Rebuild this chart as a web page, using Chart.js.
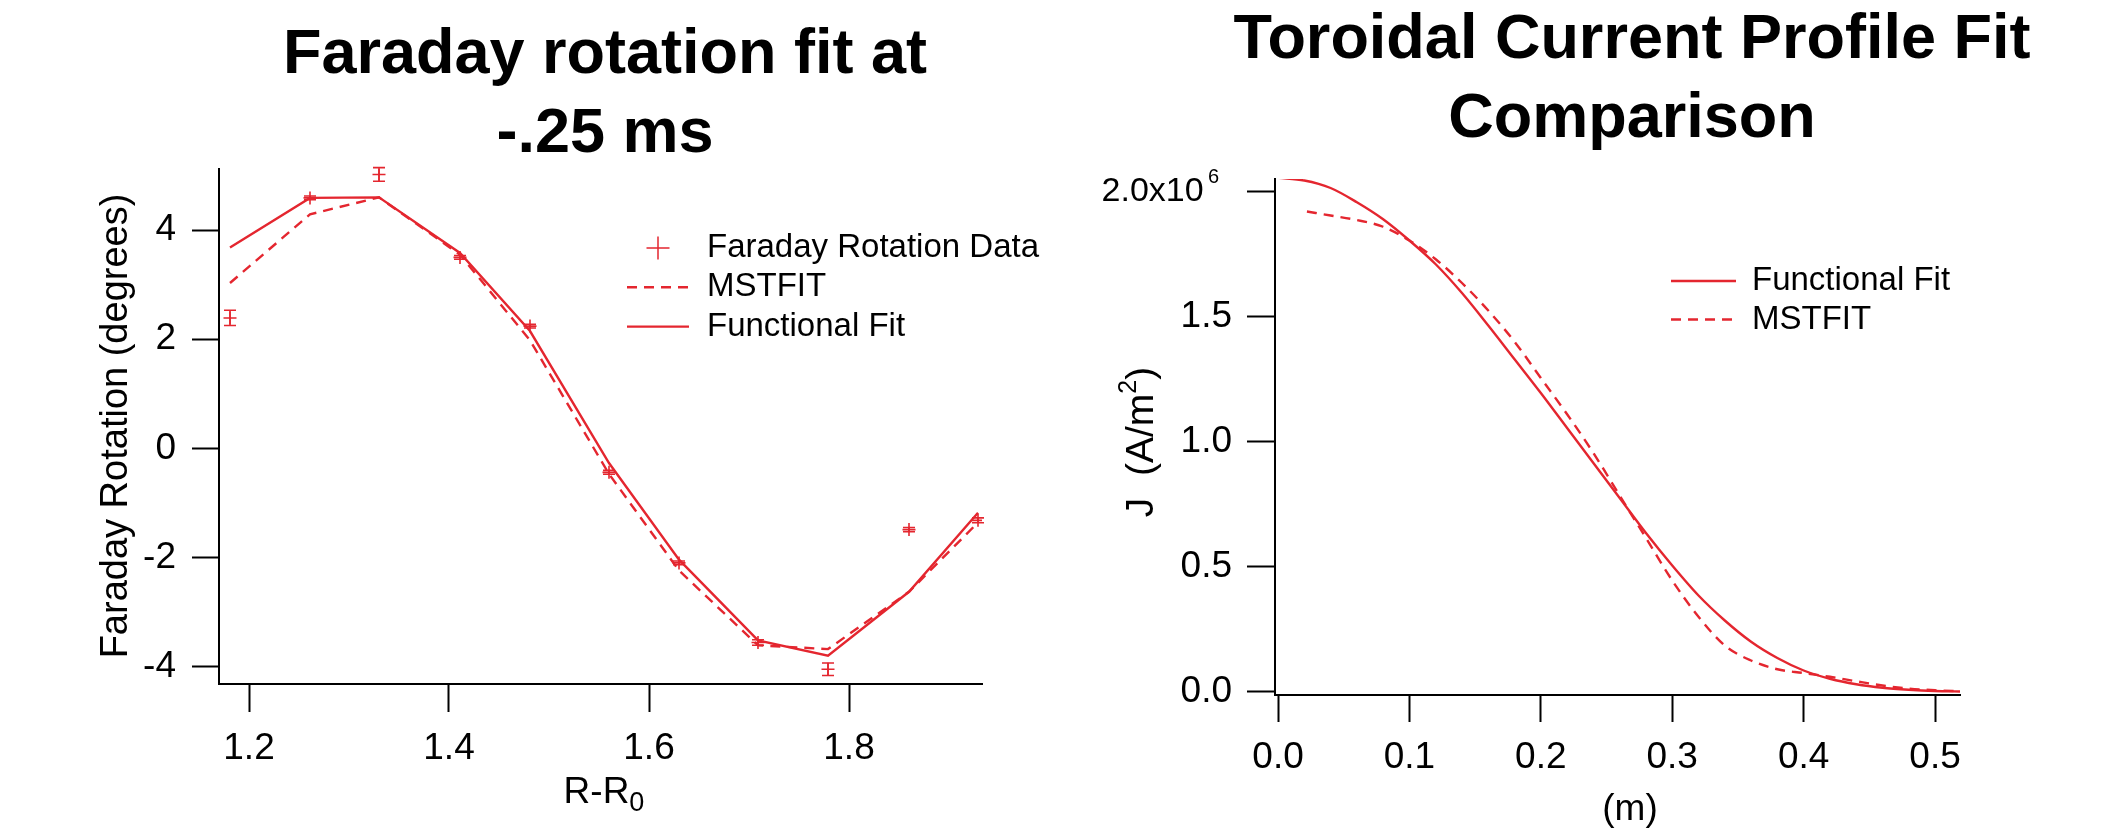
<!DOCTYPE html>
<html>
<head>
<meta charset="utf-8">
<title>Faraday rotation / toroidal current fits</title>
<script src="https://cdn.jsdelivr.net/npm/chart.js@4.4.1/dist/chart.umd.min.js"></script>
<style>
  html, body { margin: 0; padding: 0; background: #fff; }
  #wrap { position: relative; width: 2108px; height: 831px; overflow: hidden; }
  canvas { position: absolute; top: 0; }
  #faradayChart { left: 0; }
  #currentChart { left: 1054px; }
</style>
</head>
<body>
<div id="wrap">
  <canvas id="faradayChart" width="1054" height="831"></canvas>
  <canvas id="currentChart" width="1054" height="831"></canvas>
</div>
<script>
// ─── DATA ────────────────────────────────────────────────

// left panel: chord positions R-R0 and rotation angle (degrees)
const rPositions = [1.181, 1.261, 1.330, 1.411, 1.481, 1.560, 1.630, 1.709, 1.779, 1.860, 1.929];
const faradayData = [2.39, 4.59, 5.02, 3.50, 2.24, -0.44, -2.10, -3.56, -4.05, -1.49, -1.32];
const faradayErr = [0.14, 0.035, 0.125, 0.035, 0.035, 0.035, 0.035, 0.05, 0.115, 0.04, 0.045];
const mstfitRotation = [3.03, 4.29, 4.60, 3.55, 1.98, -0.47, -2.24, -3.61, -3.68, -2.63, -1.36];
const functionalRotation = [3.68, 4.59, 4.60, 3.58, 2.15, -0.27, -2.04, -3.52, -3.80, -2.63, -1.18];
const faradayXTicks = [1.2, 1.4, 1.6, 1.8];
const faradayYTicks = [-4, -2, 0, 2, 4];

// right panel: minor radius (m) and J (A/m^2)
const minorRadius = [0, 0.02, 0.04, 0.06, 0.08, 0.10, 0.12, 0.14, 0.16, 0.18, 0.20, 0.22, 0.24,
  0.26, 0.28, 0.30, 0.32, 0.34, 0.36, 0.38, 0.40, 0.42, 0.44, 0.46, 0.48, 0.50, 0.52];
const jFunctional = [2.056e6, 2.045e6, 2.015e6, 1.958e6, 1.890e6, 1.805e6, 1.710e6, 1.595e6, 1.465e6,
  1.330e6, 1.195e6, 1.055e6, 0.915e6, 0.775e6, 0.635e6, 0.505e6, 0.385e6, 0.285e6, 0.200e6,
  0.135e6, 0.085e6, 0.052e6, 0.030e6, 0.016e6, 0.008e6, 0.003e6, 0.001e6];
const mstfitRadius = [0.022, 0.04, 0.06, 0.08, 0.10, 0.12, 0.14, 0.16, 0.18, 0.20, 0.22, 0.24,
  0.26, 0.28, 0.30, 0.32, 0.34, 0.36, 0.38, 0.40, 0.42, 0.44, 0.46, 0.48, 0.50, 0.52];
const jMstfit = [1.921e6, 1.905e6, 1.887e6, 1.860e6, 1.805e6, 1.730e6, 1.635e6, 1.525e6, 1.400e6,
  1.255e6, 1.110e6, 0.955e6, 0.785e6, 0.615e6, 0.445e6, 0.300e6, 0.185e6, 0.125e6, 0.090e6,
  0.075e6, 0.060e6, 0.042e6, 0.025e6, 0.013e6, 0.006e6, 0.002e6];
const currentXTicks = [0, 0.1, 0.2, 0.3, 0.4, 0.5];
const currentYTicks = [0, 0.5e6, 1.0e6, 1.5e6, 2.0e6];

// ─── STYLE / PLUGINS ────────────────────────────────────

const RED = '#e4262f';
const FONT = "'Liberation Sans', Arial, Helvetica, sans-serif";
Chart.defaults.font.family = FONT;
Chart.defaults.color = '#000';

const xy = (xs, ys) => xs.map((x, i) => ({ x, y: ys[i] }));

// draws a run of text pieces (for sub/superscripts), centred on cx,cy
function drawParts(ctx, parts, cx, cy, rotation) {
  ctx.save();
  ctx.translate(cx, cy);
  ctx.rotate(rotation || 0);
  ctx.fillStyle = '#000';
  ctx.textAlign = 'left';
  ctx.textBaseline = 'middle';
  let total = 0;
  parts.forEach(p => {
    ctx.font = `${p.bold ? 'bold ' : ''}${p.size}px ${FONT}`;
    p.w = ctx.measureText(p.text).width;
    total += p.w;
  });
  let x = -total / 2;
  parts.forEach(p => {
    ctx.font = `${p.bold ? 'bold ' : ''}${p.size}px ${FONT}`;
    ctx.fillText(p.text, x, p.dy || 0);
    x += p.w;
  });
  ctx.restore();
}

const textPlugin = {
  id: 'panelText',
  afterDraw(chart, args, opts) {
    const ctx = chart.ctx;
    (opts.title || []).forEach((line, i) => {
      drawParts(ctx, [{ text: line, size: 63, bold: true }], opts.titleX, opts.titleY + i * 78.4);
    });
    (opts.labels || []).forEach(l => drawParts(ctx, l.parts, l.x, l.y, l.rotation));
  }
};

// exponent of the top J tick ("2.0x10" + superscript 6)
const exponentPlugin = {
  id: 'tickExponent',
  afterDraw(chart) {
    const { ctx, scales: { y } } = chart;
    const py = y.getPixelForValue(currentYTicks[currentYTicks.length - 1]);
    ctx.save();
    ctx.fillStyle = '#000';
    ctx.font = `20px ${FONT}`;
    ctx.textAlign = 'left';
    ctx.textBaseline = 'middle';
    ctx.fillText('6', y.right - 67, py - 14);
    ctx.restore();
  }
};

// error bars for the measured points (first dataset)
const errorBarPlugin = {
  id: 'errorBars',
  afterDatasetsDraw(chart) {
    const ds = chart.data.datasets[0];
    if (!ds.errors) return;
    const { ctx, scales: { x, y } } = chart;
    ctx.save();
    ctx.strokeStyle = ds.borderColor;
    ctx.lineWidth = 1.6;
    ds.data.forEach((p, i) => {
      const px = x.getPixelForValue(p.x);
      const lo = y.getPixelForValue(p.y - ds.errors[i]);
      const hi = y.getPixelForValue(p.y + ds.errors[i]);
      ctx.beginPath();
      ctx.moveTo(px, lo); ctx.lineTo(px, hi);
      ctx.moveTo(px - 6, lo); ctx.lineTo(px + 6, lo);
      ctx.moveTo(px - 6, hi); ctx.lineTo(px + 6, hi);
      ctx.stroke();
    });
    ctx.restore();
  }
};

// legend drawn from the dataset styles
const legendPlugin = {
  id: 'fitLegend',
  afterDraw(chart, args, opts) {
    const ctx = chart.ctx;
    ctx.save();
    chart.data.datasets.forEach((ds, i) => {
      const y = opts.y + i * opts.rowHeight;
      ctx.strokeStyle = ds.borderColor;
      ctx.beginPath();
      if (ds.showLine) {
        ctx.lineWidth = ds.borderWidth;
        ctx.setLineDash(ds.borderDash || []);
        ctx.moveTo(opts.x0, y);
        ctx.lineTo(opts.x1, y);
      } else {
        const cx = (opts.x0 + opts.x1) / 2;
        ctx.lineWidth = 1.5;
        ctx.setLineDash([]);
        ctx.moveTo(cx - 11.5, y); ctx.lineTo(cx + 11.5, y);
        ctx.moveTo(cx, y - 11.5); ctx.lineTo(cx, y + 11.5);
      }
      ctx.stroke();
      ctx.setLineDash([]);
      ctx.fillStyle = '#000';
      ctx.font = `${opts.size}px ${FONT}`;
      ctx.textAlign = 'left';
      ctx.textBaseline = 'middle';
      ctx.fillText(ds.label, opts.textX, y);
    });
    ctx.restore();
  }
};

function axis(min, max, tickValues, opts) {
  return {
    type: 'linear',
    min, max,
    afterBuildTicks: scale => { scale.ticks = tickValues.map(value => ({ value })); },
    afterFit: scale => {
      if (opts.width) scale.width = opts.width;
      if (opts.height) scale.height = opts.height;
    },
    grid: { drawOnChartArea: false, tickLength: opts.tickLength, tickWidth: 2, tickColor: '#000', color: '#000' },
    border: { display: true, color: '#000', width: 2 },
    ticks: {
      padding: opts.padding,
      color: '#000',
      autoSkip: false,
      maxRotation: 0,
      font: opts.font || { size: 37 },
      callback: opts.format
    }
  };
}

// ─── CHARTS ─────────────────────────────────────────────

function initFaradayChart() {
  const ctx = document.getElementById('faradayChart').getContext('2d');
  new Chart(ctx, {
    type: 'scatter',
    data: {
      datasets: [
        {
          label: 'Faraday Rotation Data',
          data: xy(rPositions, faradayData),
          errors: faradayErr,
          showLine: false,
          pointStyle: 'cross',
          pointRadius: 6.5,
          borderColor: RED,
          borderWidth: 1.6
        },
        {
          label: 'MSTFIT',
          data: xy(rPositions, mstfitRotation),
          showLine: true,
          borderColor: RED,
          borderWidth: 2.4,
          borderDash: [10, 7],
          pointRadius: 0
        },
        {
          label: 'Functional Fit',
          data: xy(rPositions, functionalRotation),
          showLine: true,
          borderColor: RED,
          borderWidth: 2.4,
          pointRadius: 0
        }
      ]
    },
    options: {
      responsive: false,
      animation: false,
      devicePixelRatio: 1,
      layout: { padding: { left: 0, right: 72, top: 169, bottom: 0 } },
      plugins: {
        legend: { display: false },
        tooltip: { enabled: false },
        fitLegend: { x0: 627, x1: 689, textX: 707, y: 248, rowHeight: 39.3, size: 33 },
        panelText: {
          title: ['Faraday rotation fit at', '-.25 ms'],
          titleX: 605, titleY: 56,
          labels: [
            { parts: [{ text: 'Faraday Rotation (degrees)', size: 38 }], x: 117, y: 426, rotation: -Math.PI / 2 },
            { parts: [{ text: 'R-R', size: 37 }, { text: '0', size: 27, dy: 11 }], x: 604, y: 793 }
          ]
        }
      },
      scales: {
        x: axis(1.17, 1.933, faradayXTicks, { height: 147, tickLength: 28, padding: 15, format: v => v.toFixed(1) }),
        y: axis(-4.32, 5.12, faradayYTicks, { width: 219, tickLength: 27, padding: 16, format: v => String(v) })
      }
    },
    plugins: [errorBarPlugin, legendPlugin, textPlugin]
  });
}

function initCurrentChart() {
  const ctx = document.getElementById('currentChart').getContext('2d');
  new Chart(ctx, {
    type: 'scatter',
    data: {
      datasets: [
        {
          label: 'Functional Fit',
          data: xy(minorRadius, jFunctional),
          showLine: true,
          cubicInterpolationMode: 'monotone',
          borderColor: RED,
          borderWidth: 2.4,
          pointRadius: 0
        },
        {
          label: 'MSTFIT',
          data: xy(mstfitRadius, jMstfit),
          showLine: true,
          cubicInterpolationMode: 'monotone',
          borderColor: RED,
          borderWidth: 2.4,
          borderDash: [10, 7],
          pointRadius: 0
        }
      ]
    },
    options: {
      responsive: false,
      animation: false,
      devicePixelRatio: 1,
      layout: { padding: { left: 0, right: 148, top: 179, bottom: 0 } },
      plugins: {
        legend: { display: false },
        tooltip: { enabled: false },
        fitLegend: { x0: 617, x1: 682, textX: 698, y: 281, rowHeight: 38.5, size: 33 },
        panelText: {
          title: ['Toroidal Current Profile Fit', 'Comparison'],
          titleX: 578, titleY: 41,
          labels: [
            { parts: [{ text: 'J  (A/m', size: 39 }, { text: '2', size: 25, dy: -13 }, { text: ')', size: 39 }],
              x: 88, y: 442, rotation: -Math.PI / 2 },
            { parts: [{ text: '(m)', size: 37 }], x: 576, y: 810 }
          ]
        }
      },
      scales: {
        x: axis(-0.0023, 0.519, currentXTicks, { height: 136, tickLength: 27, padding: 14, format: v => v.toFixed(1) }),
        y: axis(-13000, 2.051e6, currentYTicks, {
          width: 221, tickLength: 28, padding: 15,
          font: c => ({ size: c.tick && c.tick.value === 2e6 ? 34 : 37 }),
          // trailing spaces leave room for the exponent drawn by tickExponent
          format: v => v === 2e6 ? '2.0x10   ' : (v / 1e6).toFixed(1)
        })
      }
    },
    plugins: [legendPlugin, textPlugin, exponentPlugin]
  });
}

document.addEventListener('DOMContentLoaded', () => {
  initFaradayChart();
  initCurrentChart();
});
</script>
</body>
</html>
